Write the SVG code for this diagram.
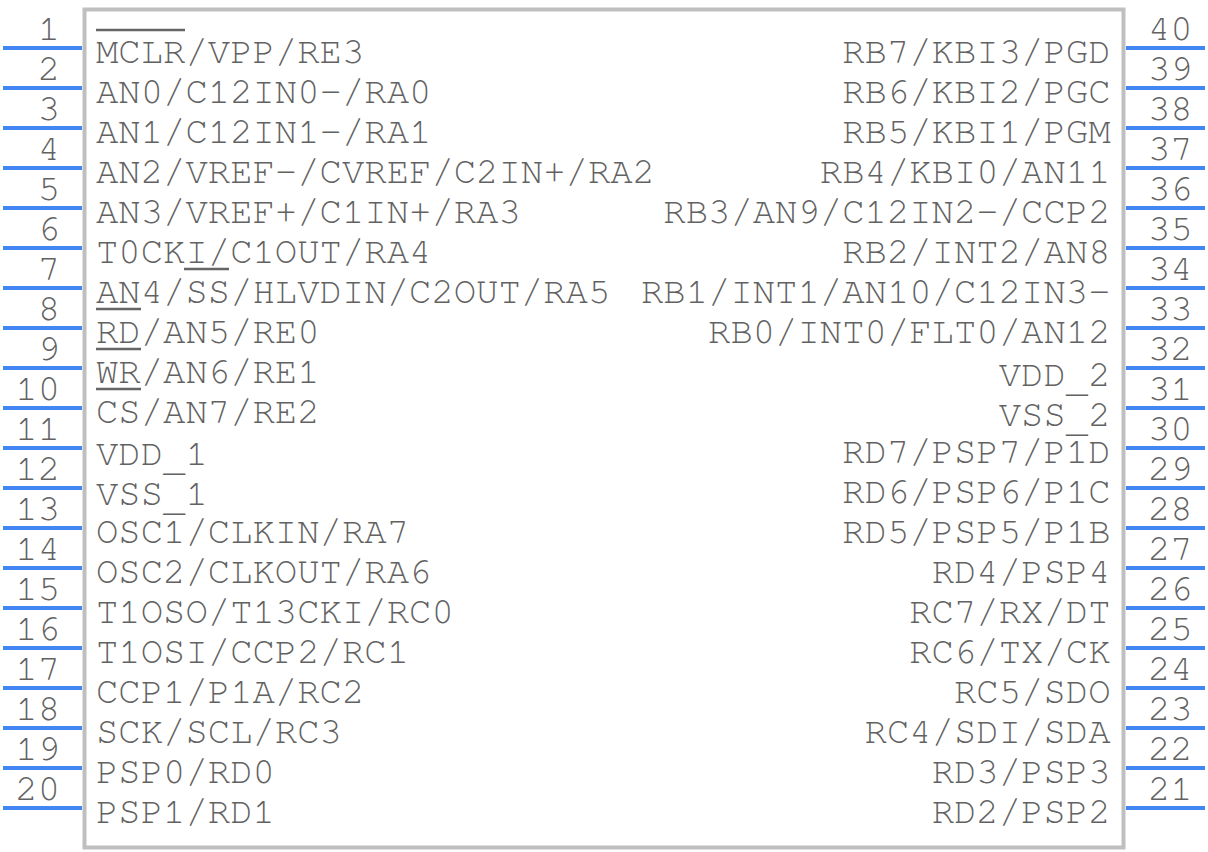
<svg xmlns="http://www.w3.org/2000/svg" width="1208" height="852" viewBox="0 0 1208 852">
<style>
text{font-family:"Nimbus Mono PS","FreeMono","Courier","Liberation Mono",monospace;font-size:37.27px;fill:#626262}
.r{text-anchor:end}
.p{stroke:#4286f4;stroke-width:4;fill:none}
.o{stroke:#666;stroke-width:2.6;fill:none}
</style>
<rect width="1208" height="852" fill="#fff"/>
<g id="body"><rect x="84.500" y="9.500" width="1039" height="838" fill="none" stroke="#bfbfbf" stroke-width="4"/></g>
<g id="connectors">
<path class="p" d="M3 48H82M3 88H82M3 128H82M3 168H82M3 208H82M3 248H82M3 288H82M3 328H82M3 368H82M3 408H82M3 448H82M3 488H82M3 528H82M3 568H82M3 608H82M3 648H82M3 688H82M3 728H82M3 768H82M3 808H82"/>
<path class="p" d="M1126 48H1205M1126 88H1205M1126 128H1205M1126 168H1205M1126 208H1205M1126 248H1205M1126 288H1205M1126 328H1205M1126 368H1205M1126 408H1205M1126 448H1205M1126 488H1205M1126 528H1205M1126 568H1205M1126 608H1205M1126 648H1205M1126 688H1205M1126 728H1205M1126 768H1205M1126 808H1205"/>
</g>
<g id="overbars"><path class="o" d="M96 30H185M184 269H229M96 309H141M96 349H141M96 389H141"/></g>
<g id="pins-left">
<text class="r" x="60" y="40">1</text><text class="r" x="60" y="80">2</text><text class="r" x="60" y="120">3</text><text class="r" x="60" y="160">4</text><text class="r" x="60" y="200">5</text><text class="r" x="60" y="240">6</text><text class="r" x="60" y="280">7</text><text class="r" x="60" y="320">8</text><text class="r" x="60" y="360">9</text><text class="r" x="60" y="400">10</text><text class="r" x="60" y="440">11</text><text class="r" x="60" y="480">12</text><text class="r" x="60" y="520">13</text><text class="r" x="60" y="560">14</text><text class="r" x="60" y="600">15</text><text class="r" x="60" y="640">16</text><text class="r" x="60" y="680">17</text><text class="r" x="60" y="720">18</text><text class="r" x="60" y="760">19</text><text class="r" x="60" y="800">20</text>
</g>
<g id="pins-right">
<text x="1148" y="40">40</text><text x="1148" y="80">39</text><text x="1148" y="120">38</text><text x="1148" y="160">37</text><text x="1148" y="200">36</text><text x="1148" y="240">35</text><text x="1148" y="280">34</text><text x="1148" y="320">33</text><text x="1148" y="360">32</text><text x="1148" y="400">31</text><text x="1148" y="440">30</text><text x="1148" y="480">29</text><text x="1148" y="520">28</text><text x="1148" y="560">27</text><text x="1148" y="600">26</text><text x="1148" y="640">25</text><text x="1148" y="680">24</text><text x="1148" y="720">23</text><text x="1148" y="760">22</text><text x="1148" y="800">21</text>
</g>
<g id="labels-left">
<text x="96" y="63">MCLR/VPP/RE3</text><text x="96" y="103">AN0/C12IN0-/RA0</text><text x="96" y="143">AN1/C12IN1-/RA1</text><text x="96" y="183">AN2/VREF-/CVREF/C2IN+/RA2</text><text x="96" y="223">AN3/VREF+/C1IN+/RA3</text><text x="96" y="263">T0CKI/C1OUT/RA4</text><text x="96" y="303">AN4/SS/HLVDIN/C2OUT/RA5</text><text x="96" y="343">RD/AN5/RE0</text><text x="96" y="383">WR/AN6/RE1</text><text x="96" y="423">CS/AN7/RE2</text><text x="96" y="465">VDD<tspan dy="6">_</tspan><tspan dy="-6">1</tspan></text><text x="96" y="505">VSS<tspan dy="6">_</tspan><tspan dy="-6">1</tspan></text><text x="96" y="543">OSC1/CLKIN/RA7</text><text x="96" y="583">OSC2/CLKOUT/RA6</text><text x="96" y="623">T1OSO/T13CKI/RC0</text><text x="96" y="663">T1OSI/CCP2/RC1</text><text x="96" y="703">CCP1/P1A/RC2</text><text x="96" y="743">SCK/SCL/RC3</text><text x="96" y="783">PSP0/RD0</text><text x="96" y="823">PSP1/RD1</text>
</g>
<g id="labels-right">
<text class="r" x="1110.500" y="63">RB7/KBI3/PGD</text><text class="r" x="1110.500" y="103">RB6/KBI2/PGC</text><text class="r" x="1110.500" y="143">RB5/KBI1/PGM</text><text class="r" x="1110.500" y="183">RB4/KBI0/AN11</text><text class="r" x="1110.500" y="223">RB3/AN9/C12IN2-/CCP2</text><text class="r" x="1110.500" y="263">RB2/INT2/AN8</text><text class="r" x="1110.500" y="303">RB1/INT1/AN10/C12IN3-</text><text class="r" x="1110.500" y="343">RB0/INT0/FLT0/AN12</text><text class="r" x="1110.500" y="386">VDD<tspan dy="6">_</tspan><tspan dy="-6">2</tspan></text><text class="r" x="1110.500" y="426">VSS<tspan dy="6">_</tspan><tspan dy="-6">2</tspan></text><text class="r" x="1110.500" y="463">RD7/PSP7/P1D</text><text class="r" x="1110.500" y="503">RD6/PSP6/P1C</text><text class="r" x="1110.500" y="543">RD5/PSP5/P1B</text><text class="r" x="1110.500" y="583">RD4/PSP4</text><text class="r" x="1110.500" y="623">RC7/RX/DT</text><text class="r" x="1110.500" y="663">RC6/TX/CK</text><text class="r" x="1110.500" y="703">RC5/SDO</text><text class="r" x="1110.500" y="743">RC4/SDI/SDA</text><text class="r" x="1110.500" y="783">RD3/PSP3</text><text class="r" x="1110.500" y="823">RD2/PSP2</text>
</g>
</svg>
